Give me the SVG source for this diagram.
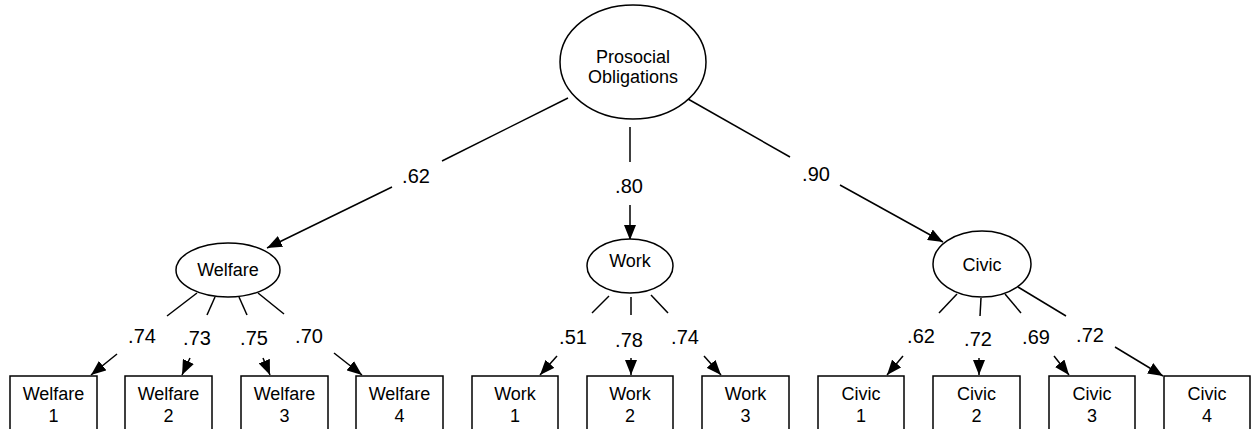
<svg xmlns="http://www.w3.org/2000/svg" width="1253" height="429" viewBox="0 0 1253 429">
  <style>
    .node ellipse, .node rect { fill: #fff; stroke: #000; stroke-width: 1.5; }
    .node text { font-family: "Liberation Sans", Arial, sans-serif; font-size: 18px; fill: #000; text-anchor: middle; }
    .edges line { stroke: #000; stroke-width: 1.5; fill: none; }
    .edges line.arrow { marker-end: url(#head); }
    .lbl { font-family: "Liberation Sans", Arial, sans-serif; font-size: 20px; fill: #000; text-anchor: middle; }
  </style>
  <defs>
    <marker id="head" markerUnits="userSpaceOnUse" markerWidth="16" markerHeight="12" refX="15" refY="6" orient="auto">
      <path d="M0,0 L15,6 L0,12 Z" fill="#000"/>
    </marker>
  </defs>
  <rect width="1253" height="429" fill="#fff"/>

  <!-- connectors: line segment, gap for the loading, arrow segment -->
  <g class="edges">
    <!-- second-order factor to first-order factors -->
    <line x1="568" y1="98" x2="442" y2="161"/>
    <line class="arrow" x1="392" y1="187" x2="267" y2="248"/>
    <line x1="630" y1="127" x2="630" y2="162"/>
    <line class="arrow" x1="630" y1="205" x2="630" y2="240"/>
    <line x1="688" y1="99" x2="790" y2="157"/>
    <line class="arrow" x1="840" y1="185" x2="943" y2="242"/>

    <!-- Welfare indicators -->
    <line x1="197" y1="293" x2="167" y2="316"/>
    <line class="arrow" x1="117" y1="354" x2="91" y2="375"/>
    <line x1="215" y1="297" x2="207" y2="315"/>
    <line class="arrow" x1="190" y1="358" x2="182" y2="375"/>
    <line x1="239" y1="297" x2="247" y2="315"/>
    <line class="arrow" x1="263" y1="358" x2="270" y2="375"/>
    <line x1="258" y1="293" x2="284" y2="314"/>
    <line class="arrow" x1="334" y1="353" x2="362" y2="375"/>

    <!-- Work indicators -->
    <line x1="609" y1="296" x2="592" y2="313"/>
    <line class="arrow" x1="557" y1="356" x2="540" y2="375"/>
    <line x1="631" y1="297" x2="631" y2="315"/>
    <line class="arrow" x1="631" y1="358" x2="631" y2="375"/>
    <line x1="651" y1="295" x2="668" y2="313"/>
    <line class="arrow" x1="704" y1="356" x2="721" y2="375"/>

    <!-- Civic indicators -->
    <line x1="957" y1="294" x2="939" y2="313"/>
    <line class="arrow" x1="903" y1="356" x2="887" y2="375"/>
    <line x1="981" y1="298" x2="980" y2="316"/>
    <line class="arrow" x1="979" y1="358" x2="979" y2="375"/>
    <line x1="1005" y1="294" x2="1021" y2="313"/>
    <line class="arrow" x1="1054" y1="356" x2="1069" y2="375"/>
    <line x1="1018" y1="287" x2="1066" y2="316"/>
    <line class="arrow" x1="1115" y1="347" x2="1163" y2="376"/>
  </g>

  <!-- loadings -->
  <g id="loadings">
    <text class="lbl" x="416" y="183">.62</text>
    <text class="lbl" x="629" y="193">.80</text>
    <text class="lbl" x="816" y="181">.90</text>
    <text class="lbl" x="142" y="343">.74</text>
    <text class="lbl" x="197" y="345">.73</text>
    <text class="lbl" x="254" y="345">.75</text>
    <text class="lbl" x="309" y="343">.70</text>
    <text class="lbl" x="573" y="344">.51</text>
    <text class="lbl" x="629" y="347">.78</text>
    <text class="lbl" x="685" y="344">.74</text>
    <text class="lbl" x="921" y="343">.62</text>
    <text class="lbl" x="978" y="346">.72</text>
    <text class="lbl" x="1036" y="344">.69</text>
    <text class="lbl" x="1090" y="342">.72</text>
  </g>

  <!-- latent factors -->
  <g id="prosocial" class="node">
    <ellipse cx="633" cy="62" rx="73" ry="57"/>
    <text x="633" y="63">Prosocial</text>
    <text x="633" y="83">Obligations</text>
  </g>
  <g id="welfare" class="node">
    <ellipse cx="228" cy="270" rx="52" ry="27"/>
    <text x="228" y="276">Welfare</text>
  </g>
  <g id="work" class="node">
    <ellipse cx="630" cy="266" rx="43" ry="27"/>
    <text x="630" y="267">Work</text>
  </g>
  <g id="civic" class="node">
    <ellipse cx="982" cy="264" rx="49" ry="33"/>
    <text x="982" y="271">Civic</text>
  </g>

  <!-- observed indicators -->
  <g id="welfare1" class="node"><rect x="10" y="376" width="87" height="60"/><text x="53.5" y="400">Welfare</text><text x="53.5" y="422">1</text></g>
  <g id="welfare2" class="node"><rect x="125" y="376" width="87" height="60"/><text x="168.5" y="400">Welfare</text><text x="168.5" y="422">2</text></g>
  <g id="welfare3" class="node"><rect x="241" y="376" width="87" height="60"/><text x="284.5" y="400">Welfare</text><text x="284.5" y="422">3</text></g>
  <g id="welfare4" class="node"><rect x="356" y="376" width="87" height="60"/><text x="399.5" y="400">Welfare</text><text x="399.5" y="422">4</text></g>

  <g id="work1" class="node"><rect x="472" y="376" width="86" height="60"/><text x="515" y="400">Work</text><text x="515" y="422">1</text></g>
  <g id="work2" class="node"><rect x="587" y="376" width="86" height="60"/><text x="630" y="400">Work</text><text x="630" y="422">2</text></g>
  <g id="work3" class="node"><rect x="702" y="376" width="87" height="60"/><text x="745.5" y="400">Work</text><text x="745.5" y="422">3</text></g>

  <g id="civic1" class="node"><rect x="818" y="376" width="86" height="60"/><text x="861" y="400">Civic</text><text x="861" y="422">1</text></g>
  <g id="civic2" class="node"><rect x="933" y="376" width="87" height="60"/><text x="976.5" y="400">Civic</text><text x="976.5" y="422">2</text></g>
  <g id="civic3" class="node"><rect x="1049" y="376" width="86" height="60"/><text x="1092" y="400">Civic</text><text x="1092" y="422">3</text></g>
  <g id="civic4" class="node"><rect x="1164" y="376" width="86" height="60"/><text x="1207" y="400">Civic</text><text x="1207" y="422">4</text></g>
</svg>
